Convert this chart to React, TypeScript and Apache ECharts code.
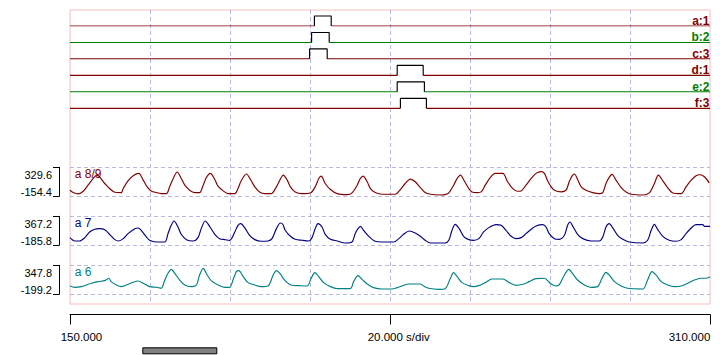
import React, { useEffect, useRef } from 'react';
import * as echarts from 'echarts';

// ---------- data ----------
const X_MIN = 150;
const X_MAX = 310;
const X_DIV = 20;

const channelNames = ['a:1', 'b:2', 'c:3', 'd:1', 'e:2', 'f:3'];
const channelColors = ['#800000', '#008000', '#800000', '#800000', '#008000', '#800000'];
const pulseStart = [211.1, 210.4, 209.9, 231.8, 231.8, 232.6];
const pulseEnd = [215.3, 214.8, 214.3, 238.3, 238.6, 239.1];
const LOW = 0;
const HIGH = 1;

const traceNames = ['a 8/9', 'a 7', 'a 6'];
const traceColors = ['#800000', '#000080', '#008080'];
const traceMax = [329.6, 367.2, 347.8];
const traceMin = [-154.4, -185.8, -199.2];

const trace1 = [
  [150.0, -53.1], [150.8, -92.5], [152.0, -115.0], [153.3, -70.0], [154.5, 31.3], [155.8, 143.9], [156.7, 200.2],
  [158.7, 59.5], [159.9, -25.0], [161.2, -86.9], [162.8, -92.5], [163.3, -25.0], [164.5, 104.5], [165.8, 188.9],
  [167.2, 228.3], [168.3, 115.7], [169.3, 3.2], [170.3, -64.4], [171.6, -92.5], [172.8, -109.4], [174.1, -109.4],
  [174.9, 3.2], [175.8, 143.9], [176.8, 250.8], [177.8, 143.9], [178.7, 31.3], [179.9, -53.1], [181.2, -92.5],
  [182.4, -92.5], [183.3, 31.3], [184.1, 160.8], [185.1, 228.3], [186.2, 127.0], [187.0, 14.4], [188.3, -64.4],
  [189.5, -109.4], [191.2, -109.4], [192.0, -25.0], [192.8, 104.5], [194.1, 217.0], [195.3, 104.5], [196.2, 3.2],
  [197.4, -81.2], [198.7, -109.4], [200.3, -109.4], [201.6, 3.2], [202.8, 160.8], [203.3, 200.2], [204.3, 115.7],
  [205.1, 3.2], [206.3, -81.2], [208.0, -109.4], [210.1, -98.1], [211.3, 3.2], [212.2, 143.9], [212.8, 183.3],
  [213.8, 59.5], [215.1, -41.8], [216.8, -109.4], [219.3, -126.3], [220.5, -98.1], [221.8, 31.3], [222.6, 143.9],
  [223.3, 183.3], [224.3, 87.6], [225.1, -25.0], [226.3, -92.5], [228.0, -120.6], [231.3, -120.6], [232.6, -41.8],
  [233.8, 59.5], [235.1, 132.6], [236.3, 87.6], [237.6, -8.1], [238.8, -92.5], [240.1, -120.6], [242.6, -131.9],
  [243.8, -126.3], [244.7, -98.1], [245.9, 31.3], [246.8, 143.9], [247.6, 200.2], [248.7, 87.6], [249.7, -25.0],
  [250.5, -81.2], [251.8, -92.5], [252.8, -81.2], [253.8, 31.3], [255.1, 160.8], [256.3, 228.3], [258.2, 228.3],
  [259.4, 87.6], [260.7, -25.0], [261.9, -70.0], [262.8, -64.4], [264.0, 31.3], [265.3, 143.9], [266.5, 228.3],
  [267.8, 256.4], [268.6, 228.3], [269.4, 104.5], [270.3, 3.2], [271.1, -53.1], [272.8, -81.2], [274.0, -53.1],
  [274.8, 87.6], [275.5, 183.3], [276.1, 217.0], [276.9, 127.0], [277.8, 3.2], [279.0, -53.1], [280.7, -92.5],
  [282.3, -109.4], [283.2, -92.5], [284.0, 59.5], [284.8, 160.8], [285.5, 211.4], [286.5, 115.7], [287.8, -8.1],
  [289.0, -81.2], [290.3, -120.6], [293.2, -131.9], [294.8, -98.1], [296.1, 59.5], [297.1, 200.2], [298.2, 104.5],
  [299.4, -8.1], [300.7, -98.1], [302.8, -109.4], [304.0, 3.2], [305.3, 115.7], [306.5, 188.9], [307.5, 205.8],
  [308.6, 172.0], [309.8, 70.7],
];

const trace2 = [
  [150.0, -39.6], [151.2, -103.2], [152.4, -103.2], [153.7, -39.6], [154.9, 68.4], [156.2, 119.3], [157.4, 132.0],
  [158.7, 112.9], [159.9, 23.9], [161.2, -77.7], [162.2, -103.2], [163.3, -58.7], [164.5, 36.7], [166.2, 132.0],
  [167.0, 144.7], [167.8, 100.2], [169.1, -26.9], [169.9, -90.5], [171.6, -122.2], [173.7, -122.2], [174.5, 36.7],
  [175.3, 195.6], [176.0, 278.2], [177.0, 163.8], [177.8, 23.9], [179.1, -77.7], [180.8, -103.2], [182.0, -39.6],
  [182.8, 132.0], [183.8, 278.2], [184.9, 176.5], [186.2, 23.9], [187.4, -58.7], [188.7, -77.7], [189.9, -90.5],
  [191.2, 68.4], [192.0, 195.6], [192.7, 227.3], [193.7, 144.7], [194.9, 4.9], [196.2, -77.7], [197.8, -109.5],
  [199.5, -103.2], [200.5, -58.7], [201.6, 132.0], [202.6, 240.1], [203.2, 214.6], [203.8, 100.2], [205.1, -14.2],
  [206.3, -71.4], [208.0, -90.5], [209.7, -103.2], [210.5, -39.6], [211.3, 132.0], [212.0, 227.3], [213.0, 163.8],
  [213.8, 23.9], [215.1, -71.4], [216.8, -103.2], [218.8, -141.3], [220.5, -122.2], [221.3, 36.7], [222.0, 132.0],
  [222.6, 176.5], [223.4, 100.2], [224.7, -14.2], [226.3, -109.5], [228.0, -122.2], [230.9, -122.2], [232.2, -58.7],
  [233.4, 23.9], [234.8, 87.5], [236.3, 49.4], [237.6, -14.2], [238.8, -90.5], [240.1, -141.3], [243.8, -141.3],
  [244.7, -90.5], [245.5, 100.2], [246.3, 214.6], [247.3, 132.0], [248.4, -14.2], [249.7, -77.7], [250.9, -90.5],
  [252.2, -58.7], [253.4, 68.4], [254.7, 151.1], [255.9, 195.6], [256.5, 208.3], [257.8, 195.6], [259.0, 100.2],
  [260.3, -14.2], [261.5, -58.7], [262.8, -39.6], [264.0, 36.7], [265.3, 119.3], [266.5, 182.8], [268.2, 208.3],
  [269.0, 163.8], [269.8, 36.7], [271.1, -58.7], [272.3, -71.4], [273.6, 4.9], [274.4, 195.6], [275.0, 259.1],
  [275.8, 163.8], [276.9, 23.9], [278.2, -58.7], [280.3, -103.2], [282.3, -103.2], [283.2, -26.9], [284.0, 163.8],
  [284.8, 227.3], [285.8, 132.0], [286.9, 4.9], [288.2, -71.4], [289.8, -122.2], [293.2, -141.3], [294.4, -90.5],
  [295.3, 100.2], [296.1, 214.6], [296.9, 119.3], [298.2, -14.2], [299.8, -90.5], [301.5, -109.5], [302.8, -77.7],
  [304.0, 36.7], [305.3, 144.7], [306.5, 208.3], [308.2, 208.3], [308.6, 176.5], [310.0, 176.5],
];

const trace3 = [
  [150.0, -42.0], [151.2, -67.2], [152.8, -54.6], [154.1, -23.2], [155.3, 8.3], [157.0, 39.7], [158.7, 58.6],
  [159.7, 102.6], [160.3, 39.7], [161.6, -23.2], [162.8, -54.6], [164.1, -23.2], [165.8, 27.1], [167.0, 52.3],
  [168.3, 8.3], [169.9, -54.6], [171.6, -67.2], [172.8, -86.0], [173.7, 71.1], [174.5, 196.9], [175.3, 272.3],
  [176.2, 196.9], [177.4, 71.1], [178.7, -23.2], [180.3, -54.6], [181.6, -23.2], [182.4, 165.4], [183.3, 291.2],
  [184.3, 165.4], [185.3, 58.6], [187.0, -23.2], [188.7, -67.2], [189.9, -67.2], [190.9, 102.6], [191.6, 228.3],
  [192.2, 247.2], [193.3, 134.0], [194.5, 20.8], [196.2, -23.2], [197.8, -54.6], [199.5, -42.0], [200.8, 165.4],
  [201.6, 247.2], [202.8, 165.4], [203.1, 121.4], [204.3, 20.8], [205.5, -29.5], [207.2, -35.7], [209.3, -42.0],
  [210.3, 102.6], [211.2, 209.5], [212.2, 134.0], [213.4, 20.8], [215.1, -54.6], [216.8, -92.3], [220.1, -92.3],
  [220.9, 39.7], [222.0, 152.9], [223.0, 83.7], [224.3, -4.3], [225.9, -73.5], [228.0, -98.6], [230.5, -98.6],
  [231.8, -73.5], [233.0, -42.0], [234.7, -4.3], [236.3, -4.3], [237.6, -4.3], [238.4, -42.0], [239.7, -86.0],
  [242.2, -104.9], [243.8, -92.3], [245.1, 102.6], [245.9, 209.5], [246.8, 134.0], [248.0, 20.8], [249.7, -35.7],
  [250.9, -54.6], [252.2, -35.7], [253.8, 20.8], [255.5, 90.0], [258.2, 90.0], [259.8, 20.8], [261.5, -29.5],
  [263.2, -10.6], [264.8, 39.7], [266.5, 96.3], [268.6, 102.6], [269.4, 58.6], [270.3, -4.3], [271.5, -42.0],
  [272.3, -23.2], [273.6, 165.4], [274.7, 272.3], [275.7, 184.3], [276.9, 71.1], [278.6, -23.2], [280.3, -67.2],
  [281.9, -54.6], [283.0, 102.6], [284.0, 215.7], [285.0, 146.6], [286.1, 39.7], [287.8, -42.0], [289.4, -86.0],
  [293.2, -98.6], [294.4, 71.1], [295.5, 228.3], [296.5, 165.4], [297.8, 39.7], [299.4, -23.2], [301.1, -54.6],
  [302.8, -42.0], [304.4, 8.3], [306.1, 71.1], [307.8, 102.6], [309.0, 102.6], [310.0, 134.0],
];
const traces = [trace1, trace2, trace3];

const scaleLabels = ['150.000', '20.000 s/div', '310.000'];

// ---------- layout ----------
const FONT = '"Liberation Sans", Arial, sans-serif';
const PLOT_L = 70;
const PLOT_W = 640;
const PLOT_T = 10;
const PLOT_H = 294;
const CH_BASE0 = 26;
const CH_STEP = 16.46;
const CH_HIGH_PX = 10;
const BAND_T0 = 167.3;
const BAND_STEP = 49;
const BAND_H = 29;
const GRID_COLOR = '#b8b8e0';
const FRAME_COLOR = '#f7bcbc';
const LINE_W = 1.15;

export default function App() {
  const ref = useRef<HTMLDivElement>(null);

  useEffect(() => {
    const chart = echarts.init(ref.current!, null, { renderer: 'svg' });

    const grids: any[] = [];
    const xAxes: any[] = [];
    const yAxes: any[] = [];
    const series: any[] = [];
    const graphics: any[] = [];

    const hiddenX = (gi: number) => ({
      type: 'value', gridIndex: gi, min: X_MIN, max: X_MAX, show: false,
    });

    // frame grid with vertical dashed divisions
    grids.push({
      left: PLOT_L, top: PLOT_T, width: PLOT_W, height: PLOT_H,
      show: true, borderColor: FRAME_COLOR, borderWidth: 1, backgroundColor: 'transparent',
    });
    xAxes.push({
      type: 'value', gridIndex: 0, min: X_MIN, max: X_MAX, interval: X_DIV,
      axisLine: { show: false, onZero: false }, axisTick: { show: false }, axisLabel: { show: false },
      splitLine: { show: true, showMinLine: false, showMaxLine: false, lineStyle: { color: GRID_COLOR, width: 1, type: [4, 3] } },
    });
    yAxes.push({ type: 'value', gridIndex: 0, min: 0, max: 1, show: false });

    // digital channels
    channelNames.forEach((name, i) => {
      const gi = grids.length;
      const base = CH_BASE0 + CH_STEP * i;
      grids.push({ left: PLOT_L, width: PLOT_W, top: base - CH_STEP, height: CH_STEP });
      xAxes.push(hiddenX(gi));
      yAxes.push({ type: 'value', gridIndex: gi, min: 0, max: CH_STEP / CH_HIGH_PX, show: false });
      const common = {
        type: 'line', xAxisIndex: gi, yAxisIndex: gi, symbol: 'none', silent: true,
      };
      series.push({ ...common, data: [[X_MIN, LOW], [pulseStart[i], LOW]], lineStyle: { color: channelColors[i], width: LINE_W } });
      series.push({ ...common, data: [[pulseEnd[i], LOW], [X_MAX, LOW]], lineStyle: { color: channelColors[i], width: LINE_W } });
      series.push({
        ...common,
        data: [[pulseStart[i], LOW], [pulseStart[i], HIGH], [pulseEnd[i], HIGH], [pulseEnd[i], LOW]],
        lineStyle: { color: '#000000', width: LINE_W },
      });
      graphics.push({
        type: 'text', x: PLOT_L + PLOT_W - 0.5, y: base + 0.8,
        style: { text: name, fill: channelColors[i], font: `bold 12px ${FONT}`, textAlign: 'right', textVerticalAlign: 'bottom' },
      });
    });

    // analog traces
    traces.forEach((tr, k) => {
      const gi = grids.length;
      const top = BAND_T0 + BAND_STEP * k;
      grids.push({ left: PLOT_L, width: PLOT_W, top, height: BAND_H });
      xAxes.push(hiddenX(gi));
      yAxes.push({
        type: 'value', gridIndex: gi, min: traceMin[k], max: traceMax[k], interval: traceMax[k] - traceMin[k],
        offset: 11,
        axisLine: { show: true, lineStyle: { color: '#000', width: 1 } },
        axisTick: { show: true, length: 6, lineStyle: { color: '#000', width: 1 } },
        axisLabel: { show: false },
        splitLine: { show: true, lineStyle: { color: GRID_COLOR, width: 1, type: [4, 3] } },
      });
      series.push({
        type: 'line', xAxisIndex: gi, yAxisIndex: gi, symbol: 'none', silent: true,
        smooth: 0.3, data: tr, lineStyle: { color: traceColors[k], width: LINE_W },
      });
      graphics.push({
        type: 'text', x: 52, y: top + 7.7,
        style: { text: traceMax[k].toFixed(1), fill: '#000', font: `11px ${FONT}`, textAlign: 'right', textVerticalAlign: 'middle' },
      });
      graphics.push({
        type: 'text', x: 52, y: top + 24.7,
        style: { text: traceMin[k].toFixed(1), fill: '#000', font: `11px ${FONT}`, textAlign: 'right', textVerticalAlign: 'middle' },
      });
      graphics.push({
        type: 'text', x: 74.7, y: top + 7,
        style: { text: traceNames[k], fill: traceColors[k], font: `12px ${FONT}`, textAlign: 'left', textVerticalAlign: 'middle' },
      });
    });

    // bottom time scale
    const gb = grids.length;
    grids.push({ left: PLOT_L, width: PLOT_W, top: 314.5, height: 10 });
    xAxes.push({
      type: 'value', gridIndex: gb, min: X_MIN, max: X_MAX, interval: (X_MAX - X_MIN) / 2, position: 'top',
      axisLine: { show: true, onZero: false, lineStyle: { color: '#000', width: 1 } },
      axisTick: { show: true, inside: true, length: 10, lineStyle: { color: '#000', width: 1 } },
      axisLabel: { show: false }, splitLine: { show: false },
    });
    yAxes.push({ type: 'value', gridIndex: gb, min: 0, max: 1, show: false });

    graphics.push({
      type: 'text', x: 60.7, y: 336.7,
      style: { text: scaleLabels[0], fill: '#000', font: `11.5px ${FONT}`, textAlign: 'left', textVerticalAlign: 'middle' },
    });
    graphics.push({
      type: 'text', x: 367.7, y: 336.7,
      style: { text: scaleLabels[1], fill: '#000', font: `11.5px ${FONT}`, textAlign: 'left', textVerticalAlign: 'middle' },
    });
    graphics.push({
      type: 'text', x: 710.3, y: 336.7,
      style: { text: scaleLabels[2], fill: '#000', font: `11.5px ${FONT}`, textAlign: 'right', textVerticalAlign: 'middle' },
    });
    graphics.push({
      type: 'rect', shape: { x: 142.8, y: 347.8, width: 74, height: 6 },
      style: { fill: '#808080', stroke: '#000', lineWidth: 1 },
    });

    chart.setOption({
      animation: false,
      backgroundColor: '#ffffff',
      grid: grids,
      xAxis: xAxes,
      yAxis: yAxes,
      series,
      graphic: { elements: graphics },
    });

    return () => chart.dispose();
  }, []);

  return (
    <div
      ref={ref}
      style={{ position: 'fixed', left: 0, top: 0, width: 720, height: 355, background: '#fff' }}
    />
  );
}
